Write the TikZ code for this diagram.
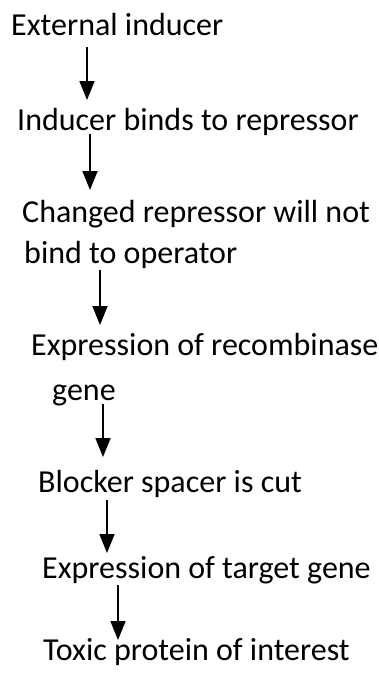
\documentclass[tikz,border=0pt]{standalone}
\usepackage{fontspec}
\setmainfont{Carlito}
\usetikzlibrary{arrows.meta}
\begin{document}
\begin{tikzpicture}[x=1pt,y=1pt,
  stage/.style={anchor=base west,inner sep=0pt,font=\fontsize{32}{38}\selectfont},
  arr/.style={line width=1.7pt,-{Triangle[width=15pt,length=19pt]}}]
\useasboundingbox (0,0) rectangle (379,-675);
% steps of the pathway
\node[stage] (n1) at (11,-35)  {External inducer};
\node[stage] (n2) at (17,-130) {Inducer binds to repressor};
\node[stage] (n3) at (22,-222) {Changed repressor will not};
\node[stage] (n3b) at (24,-263) {bind to operator};
\node[stage] (n4) at (31,-355) {Expression of recombinase};
\node[stage] (n4b) at (52,-400) {gene};
\node[stage] (n5) at (38,-492) {Blocker spacer is cut};
\node[stage] (n6) at (42,-578) {Expression of target gene};
\node[stage] (n7) at (43,-660) {Toxic protein of interest};
% arrow end points
\coordinate (a1) at (87,-47);  \coordinate (b1) at (87,-100);
\coordinate (a2) at (90,-134); \coordinate (b2) at (90,-190);
\coordinate (a3) at (100,-270); \coordinate (b3) at (100,-325);
\coordinate (a4) at (103,-404); \coordinate (b4) at (103,-457);
\coordinate (a5) at (107,-500); \coordinate (b5) at (107,-553);
\coordinate (a6) at (118,-585); \coordinate (b6) at (118,-640);
\foreach \i in {1,...,6} \draw[arr] (a\i) -- (b\i);
\end{tikzpicture}
\end{document}
